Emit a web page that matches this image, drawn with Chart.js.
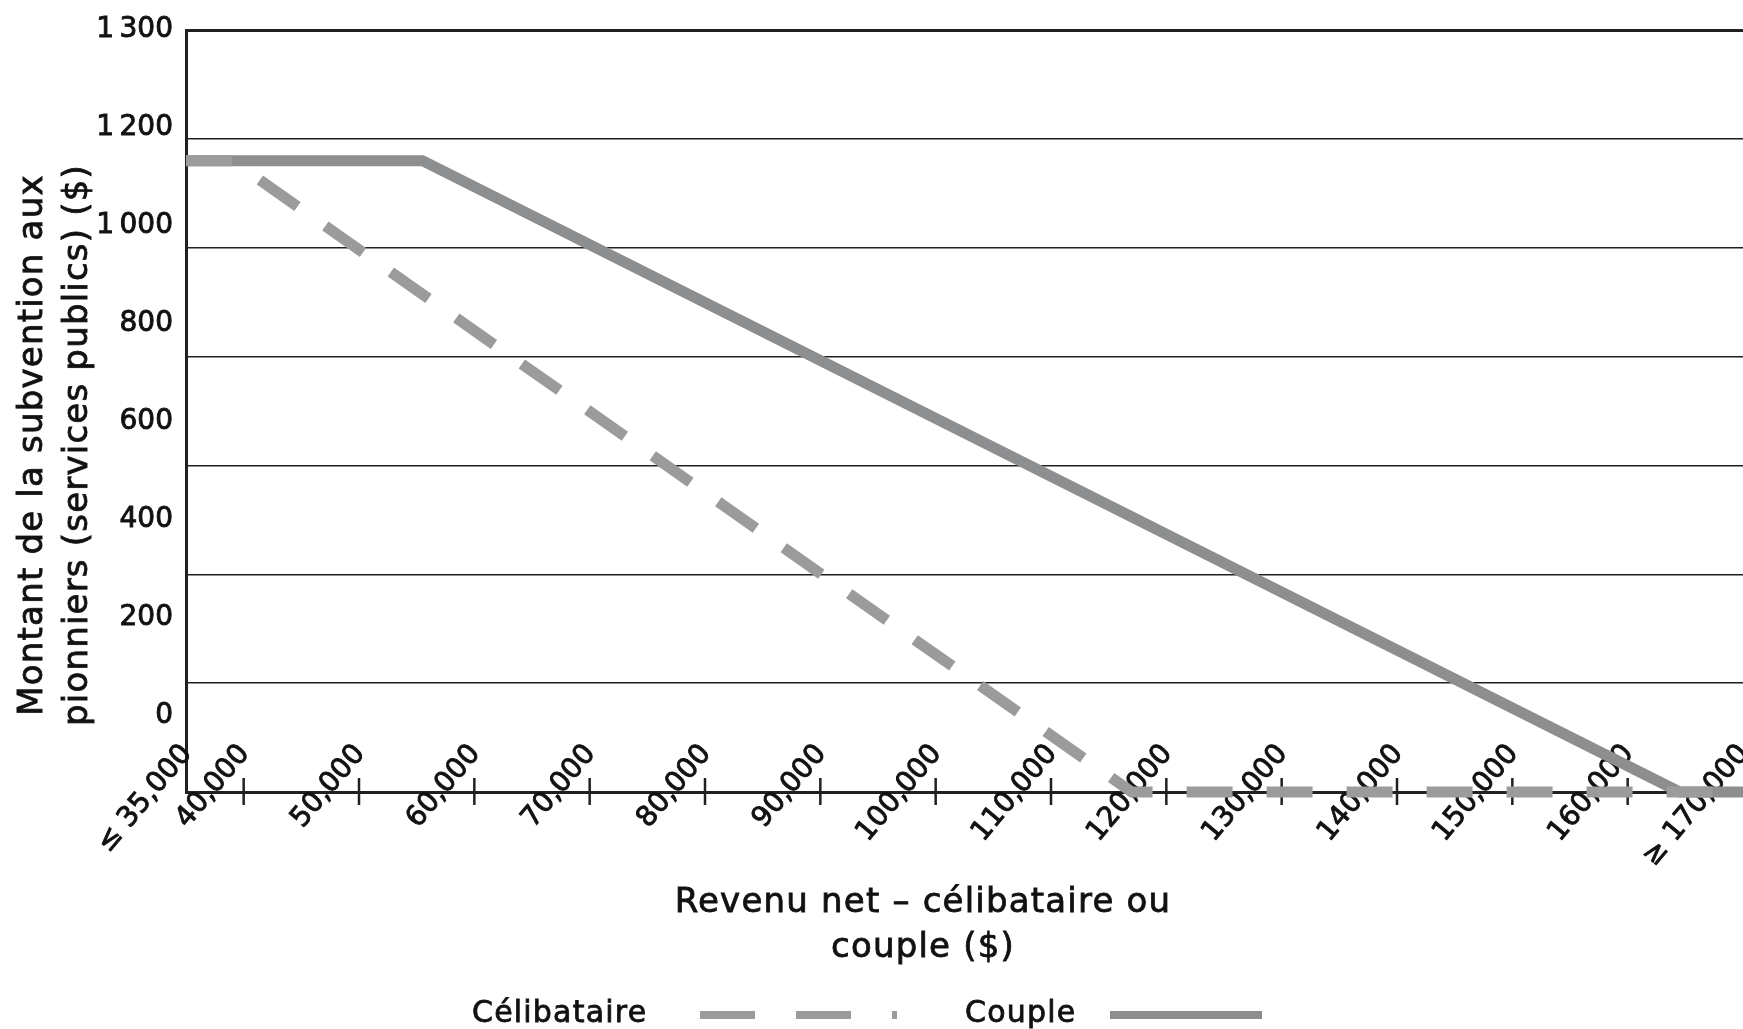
<!DOCTYPE html>
<html lang="fr">
<head>
<meta charset="utf-8">
<title>Subvention aux pionniers (services publics)</title>
<script src="https://cdn.jsdelivr.net/npm/chart.js@4.4.1/dist/chart.umd.min.js"></script>
<style>
    html, body { margin: 0; padding: 0; background: #ffffff; }
    #wrap { position: relative; width: 1743px; height: 1029px; overflow: hidden; }
    #chart { position: absolute; left: 0; top: 0; }
    .txt { position: absolute; font-family: "DejaVu Sans", sans-serif; color: #111111; white-space: nowrap;
           -webkit-text-stroke: 0.8px #111111; }
    #ytitle { left: 53px; top: 445px; font-size: 34px; line-height: 45px; letter-spacing: 1.2px; text-align: center;
              transform: translate(-50%, -50%) rotate(-90deg); }
    #xtitle { left: 923px; top: 878px; font-size: 34px; line-height: 45px; letter-spacing: 1.2px; text-align: center;
              transform: translateX(-50%); }
    .leg { top: 997px; font-size: 30px; line-height: 30px; letter-spacing: 1.2px; }
    .sw { position: absolute; top: 1009px; }
</style>
</head>
<body>
<div id="wrap">
    <canvas id="chart" width="1743" height="1029"></canvas>
    <div class="txt" id="ytitle">Montant de la subvention aux<br>pionniers (services publics) ($)</div>
    <div class="txt" id="xtitle">Revenu net – célibataire ou<br>couple ($)</div>
    <div class="txt leg" style="left:472px">Célibataire</div>
    <svg class="sw" style="left:700px" width="197" height="12">
        <line x1="0" y1="6" x2="197" y2="6" stroke="#9b9b9b" stroke-width="8" stroke-dasharray="55 41"></line>
    </svg>
    <div class="txt leg" style="left:965px">Couple</div>
    <svg class="sw" style="left:1110px" width="152" height="12">
        <line x1="0" y1="6" x2="152" y2="6" stroke="#8d8e90" stroke-width="8"></line>
    </svg>
</div>
<script>
// ---- data ----
const CELIB_INCOME = [35000, 39000, 117000, 170000];
const CELIB_SUBSIDY = [1160, 1160, 0, 0];
const COUPLE_INCOME = [35000, 55500, 164500, 170000];
const COUPLE_SUBSIDY = [1160, 1160, 0, 0];

const X_TICKS = [35000, 40000, 50000, 60000, 70000, 80000, 90000, 100000,
    110000, 120000, 130000, 140000, 150000, 160000, 170000];
const X_TICK_LABELS = ["≤ 35,000", "40,000", "50,000", "60,000", "70,000", "80,000", "90,000", "100,000",
    "110,000", "120,000", "130,000", "140,000", "150,000", "160,000", "≥ 170,000"];
// printed labels on the value axis (they do not sit on the grid lines in the original)
const Y_TICK_LABELS = ["0", "200", "400", "600", "800", "1\u2009000", "1\u2009200", "1\u2009300"];

const INK = "#231f20";
const TEXT = "#111111";
const CELIB_COLOR = "#9b9b9b";
const COUPLE_COLOR = "#8d8e90";
const TICK_FONT = "28px 'DejaVu Sans', sans-serif";

const toPoints = (xs, ys) => xs.map((x, i) => ({ x: x, y: ys[i] }));

function drawLabel(ctx, text, align) {
    ctx.textAlign = align;
    ctx.textBaseline = "middle";
    ctx.fillText(text, 0, 0);
    ctx.strokeText(text, 0, 0);
}

// tick marks and labels, placed with the chart's own scales
const tickPlugin = {
    id: "tickPlugin",
    beforeDatasetsDraw(chart) {
        const { ctx, scales } = chart;
        const x = scales.x;
        const yl = scales.yl;
        const axisY = x.top;
        ctx.save();
        ctx.strokeStyle = INK;
        ctx.lineWidth = 2.5;
        X_TICKS.forEach((v, i) => {
            if (i === 0 || i === X_TICKS.length - 1) return;
            const px = x.getPixelForValue(v);
            ctx.beginPath();
            ctx.moveTo(px, axisY - 14);
            ctx.lineTo(px, axisY + 13);
            ctx.stroke();
        });

        ctx.fillStyle = TEXT;
        ctx.strokeStyle = TEXT;
        ctx.lineWidth = 0.9;
        ctx.font = TICK_FONT;
        X_TICKS.forEach((v, i) => {
            const px = x.getPixelForValue(v);
            ctx.save();
            ctx.translate(px + 1, axisY - 43);
            ctx.rotate(-50 * Math.PI / 180);
            drawLabel(ctx, X_TICK_LABELS[i], "right");
            ctx.restore();
        });
        Y_TICK_LABELS.forEach((label, i) => {
            ctx.save();
            ctx.translate(yl.right - 13, yl.getPixelForValue(i));
            drawLabel(ctx, label, "right");
            ctx.restore();
        });
        ctx.restore();
    },
};

new Chart(document.getElementById("chart"), {
    type: "line",
    data: {
        datasets: [
            {
                label: "Célibataire",
                data: toPoints(CELIB_INCOME, CELIB_SUBSIDY),
                borderColor: CELIB_COLOR,
                borderWidth: 11,
                borderDash: [46, 34],
                borderCapStyle: "butt",
                pointRadius: 0,
                tension: 0,
                clip: false,
                order: 0,
            },
            {
                label: "Couple",
                data: toPoints(COUPLE_INCOME, COUPLE_SUBSIDY),
                borderColor: COUPLE_COLOR,
                borderWidth: 11,
                borderCapStyle: "butt",
                pointRadius: 0,
                tension: 0,
                clip: false,
                order: 1,
            },
        ],
    },
    options: {
        responsive: false,
        animation: false,
        events: [],
        layout: { padding: { top: 30, left: 0, right: 0, bottom: 0 } },
        plugins: { legend: { display: false }, tooltip: { enabled: false } },
        scales: {
            x: {
                type: "linear",
                min: 35000,
                max: 170000,
                grid: { display: false, drawTicks: false },
                border: { display: true, color: INK, width: 3 },
                ticks: { display: false },
                afterFit: (axis) => { axis.height = 237; },
            },
            y: {
                type: "linear",
                min: 0,
                max: 1400,
                weight: 0,
                ticks: { display: false, stepSize: 200 },
                grid: {
                    color: INK,
                    lineWidth: (c) => (c.tick && c.tick.value === 1400 ? 3 : 1.5),
                    drawTicks: false,
                },
                border: { display: true, color: INK, width: 3 },
                afterFit: (axis) => { axis.width = 0; },
            },
            yl: {
                type: "linear",
                position: "left",
                weight: 1,
                min: -0.776,
                max: 7,
                grid: { display: false, drawTicks: false },
                border: { display: false },
                ticks: { display: false },
                afterFit: (axis) => { axis.width = 186; },
            },
        },
    },
    plugins: [tickPlugin],
});
</script>
</body>
</html>
